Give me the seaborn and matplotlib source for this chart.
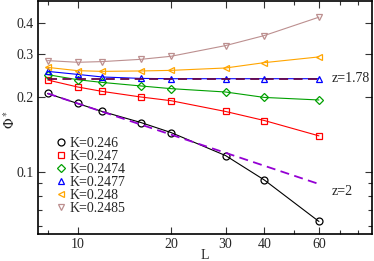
import matplotlib
matplotlib.use("Agg")
import matplotlib.pyplot as plt
import matplotlib.ticker as mticker
from matplotlib.lines import Line2D
import pandas as pd
import seaborn as sns

# system sizes
L = [8, 10, 12, 16, 20, 30, 40, 60]

# Phi* for each K
phi_246 = [0.2076, 0.189, 0.1754, 0.1582, 0.1441, 0.1162, 0.0925, 0.0628]
phi_247 = [0.2354, 0.2205, 0.2116, 0.2008, 0.1940, 0.1754, 0.1612, 0.1397]
phi_2474 = [0.2474, 0.236, 0.2301, 0.2226, 0.2171, 0.2104, 0.2000, 0.1953]
phi_2477 = [0.2551, 0.248, 0.2421, 0.2389, 0.2382, 0.2382, 0.2382, 0.2382]
phi_248 = [0.2648, 0.2568, 0.2551, 0.2561, 0.2575, 0.2633, 0.2768, 0.2920]
phi_2485 = [0.2821, 0.2777, 0.2795, 0.2855, 0.2937, 0.3246, 0.3565, 0.4232]

K_labels = ["K=0.246", "K=0.247", "K=0.2474", "K=0.2477", "K=0.248", "K=0.2485"]

# guide lines (end points)
guide_L = [8, 60]
guide_z178 = [0.2382, 0.2382]
guide_z2 = [0.2076, 0.0891]

colors = ["#000000", "#ff0000", "#00a000", "#0000ff", "#ffa500", "#bc8f8f"]
markers = ["o", "s", "D", "^", "<", "v"]
msizes = [5, 4.6, 4.2, 5, 5, 5]

sns.set_theme(style="ticks")
plt.rcParams["font.family"] = ["Liberation Serif", "DejaVu Serif"]
plt.rcParams["mathtext.fontset"] = "stix"

fig = plt.figure(figsize=(3.74, 2.61), dpi=100)
ax = fig.add_axes([0.1016, 0.1023, 0.8931, 0.892])

series = [phi_246, phi_247, phi_2474, phi_2477, phi_248, phi_2485]
for vals, c, m, ms in zip(series, colors, markers, msizes):
    df = pd.DataFrame({"L": L, "phi": vals})
    sns.lineplot(data=df, x="L", y="phi", ax=ax, color=c, lw=0.8,
                 marker=m, markersize=ms, markerfacecolor="none",
                 markeredgecolor=c, markeredgewidth=0.9, legend=False)

gdf = pd.DataFrame({"L": guide_L, "a": guide_z178, "b": guide_z2})
sns.lineplot(data=gdf, x="L", y="a", ax=ax, color="#670748", lw=1.3,
             linestyle=(0, (5, 3)), legend=False)
sns.lineplot(data=gdf, x="L", y="b", ax=ax, color="#9400d3", lw=1.3,
             linestyle=(0, (5, 3)), legend=False)

ax.set_xscale("log")
ax.set_yscale("log")
ax.set_xlim(7.45, 89)
ax.set_ylim(0.0557, 0.49)

ax.xaxis.set_major_locator(mticker.FixedLocator([10, 20, 30, 40, 60]))
ax.xaxis.set_major_formatter(mticker.FixedFormatter(["10", "20", "30", "40", "60"]))
ax.xaxis.set_minor_locator(mticker.FixedLocator([8, 50, 70, 80]))
ax.xaxis.set_minor_formatter(mticker.NullFormatter())
ax.yaxis.set_major_locator(mticker.FixedLocator([0.1, 0.2, 0.3, 0.4]))
ax.yaxis.set_major_formatter(mticker.FixedFormatter(["0.1", "0.2", "0.3", "0.4"]))
ax.yaxis.set_minor_locator(mticker.FixedLocator([0.06, 0.07, 0.08, 0.09]))
ax.yaxis.set_minor_formatter(mticker.NullFormatter())

ax.tick_params(which="both", direction="in", top=True, right=True,
               labelsize=10, width=0.8, color="#333333", pad=3)
ax.tick_params(which="major", length=5)
ax.tick_params(which="minor", length=3)
for s in ax.spines.values():
    s.set_linewidth(1.2)
    s.set_color("black")

ax.set_xlabel("L", fontsize=10, va="center")
ax.set_ylabel(r"$\Phi^*$", fontsize=10, va="center")
ax.xaxis.set_label_coords(0.5, -0.089)
ax.yaxis.set_label_coords(-0.084, 0.49)

ax.text(66, 0.2382, "z=1.78", fontsize=10, va="center", ha="left")
ax.text(66, 0.083, "z=2", fontsize=10, va="center", ha="left")

handles = [Line2D([], [], ls="none", marker=m, markersize=ms, markerfacecolor="none",
                  markeredgecolor=c, markeredgewidth=0.9)
           for c, m, ms in zip(colors, markers, msizes)]
leg = ax.legend(handles, K_labels, loc="lower left", bbox_to_anchor=(0.055, 0.082),
                frameon=False, fontsize=10, handlelength=0.6, handletextpad=0.35,
                labelspacing=0.0, borderaxespad=0, borderpad=0)

fig.savefig("out.png", dpi=100)
